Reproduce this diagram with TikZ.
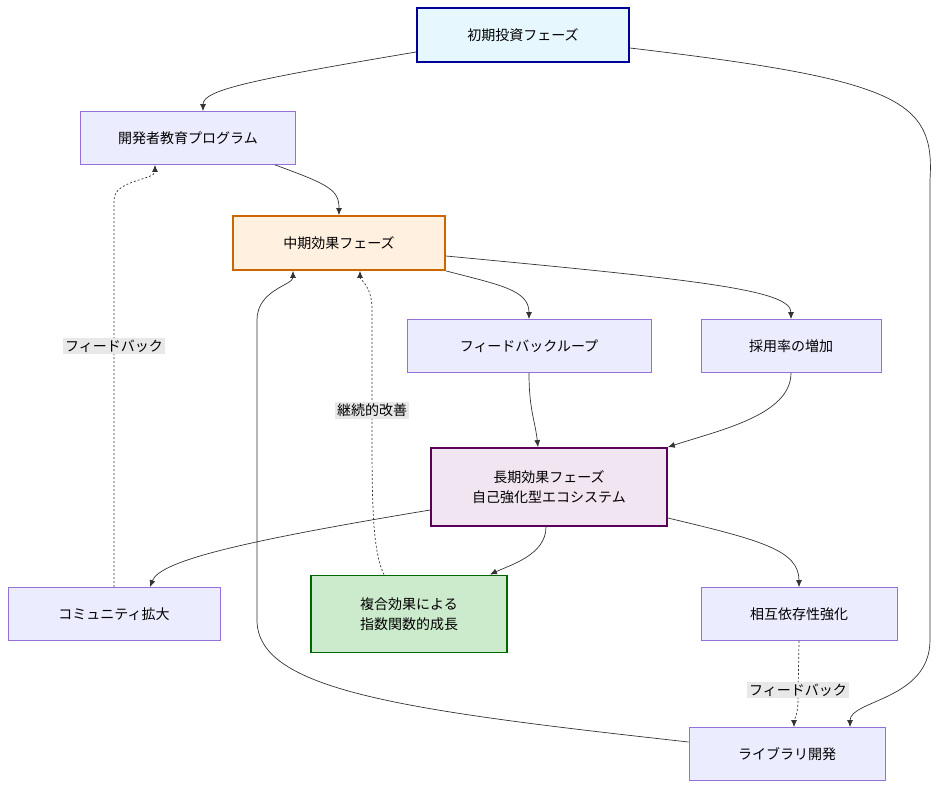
\documentclass[tikz,border=0pt]{standalone}
\usepackage{fontspec}
\setmainfont{Noto Sans CJK JP}
\usetikzlibrary{arrows.meta}
\definecolor{boxfill}{HTML}{ECECFF}
\definecolor{boxline}{HTML}{9370DB}
\definecolor{lblfill}{HTML}{E8E8E8}
\tikzset{%
  box/.style={draw=boxline,fill=boxfill,line width=0.8pt,minimum height=53pt,align=center,font=\fontsize{14}{20}\selectfont},
  phase/.style={box,line width=1.8pt},
  link/.style={draw=black!80,line width=0.7pt,-{Latex[length=7pt,width=6pt]}},
  back/.style={link,dashed,dash pattern=on 2pt off 2pt},
  lbl/.style={fill=lblfill,inner sep=2pt,font=\fontsize{14}{16}\selectfont}
}
\begin{document}
\begin{tikzpicture}[x=1pt,y=-1pt]
    \useasboundingbox (0,0) rectangle (940,790);

    % Phases
    \node[phase,fill=cyan!10,draw=blue!60!black,minimum width=212pt,minimum height=54pt] (init) at (523,35) {初期投資フェーズ};
    \node[phase,fill=orange!12,draw=orange!80!black,minimum width=212pt,minimum height=54pt] (mid) at (339,243) {中期効果フェーズ};
    \node[phase,fill=violet!10,draw=violet!70!black,minimum width=236pt,minimum height=78pt] (long) at (549,487) {長期効果フェーズ\\自己強化型エコシステム};
    \node[phase,fill=green!60!black!20,draw=green!40!black,minimum width=196pt,minimum height=77pt] (exp) at (409,614) {複合効果による\\指数関数的成長};

    % Steps
    \node[box,minimum width=215pt] (edu) at (188,138) {開発者教育プログラム};
    \node[box,minimum width=244pt] (loop) at (529,346) {フィードバックループ};
    \node[box,minimum width=180pt] (adopt) at (791,346) {採用率の増加};
    \node[box,minimum width=212pt] (comm) at (114,614) {コミュニティ拡大};
    \node[box,minimum width=196pt] (dep) at (799,614) {相互依存性強化};
    \node[box,minimum width=196pt] (lib) at (787,754) {ライブラリ開発};

    % Forward links
    \draw[link] (init.west|-0,52) .. controls (250,80) and (203,90) .. (edu.north-|203,0);
    \draw[link] (init.east|-0,48) .. controls (900,80) and (935,100) .. (930,180) -- (930,640) .. controls (930,700) and (850,700) .. (lib.north-|850,0);
    \draw[link] (edu.south-|275,0) .. controls (330,185) and (339,190) .. (mid.north);
    \draw[link] (mid.south east) .. controls (500,285) and (529,290) .. (loop.north);
    \draw[link] (mid.east|-0,256) .. controls (700,280) and (791,290) .. (adopt.north);
    \draw[link] (loop.south) .. controls (529,410) and (535,420) .. (long.north-|538,0);
    \draw[link] (adopt.south) .. controls (791,415) and (720,430) .. (long.north east);
    \draw[link] (long.west|-0,510) .. controls (250,540) and (160,560) .. (comm.north-|150,0);
    \draw[link] (long.south-|546,0) .. controls (546,555) and (510,565) .. (exp.north-|490,0);
    \draw[link] (long.east|-0,518) .. controls (760,540) and (799,550) .. (dep.north);
    \draw[link] (lib.west|-0,742) .. controls (400,710) and (257,690) .. (257,620) -- (257,320) .. controls (257,290) and (293,285) .. (mid.south-|293,0);

    % Feedback links
    \draw[back] (comm.north) -- (114,200) .. controls (114,180) and (155,180) .. (edu.south-|155,0) node[lbl,pos=0,at start,yshift=-146pt] {};
    \node[lbl] (fb1) at (114,346) {フィードバック};
    \draw[back] (exp.north-|384,0) .. controls (372,550) and (372,500) .. (372,420) -- (372,310) .. controls (372,285) and (360,280) .. (mid.south-|360,0);
    \node[lbl] (fb2) at (372,410) {継続的改善};
    \draw[back] (dep.south) -- (798,700) .. controls (798,715) and (794,720) .. (lib.north-|794,0);
    \node[lbl] (fb3) at (798,690) {フィードバック};
\end{tikzpicture}
\end{document}
